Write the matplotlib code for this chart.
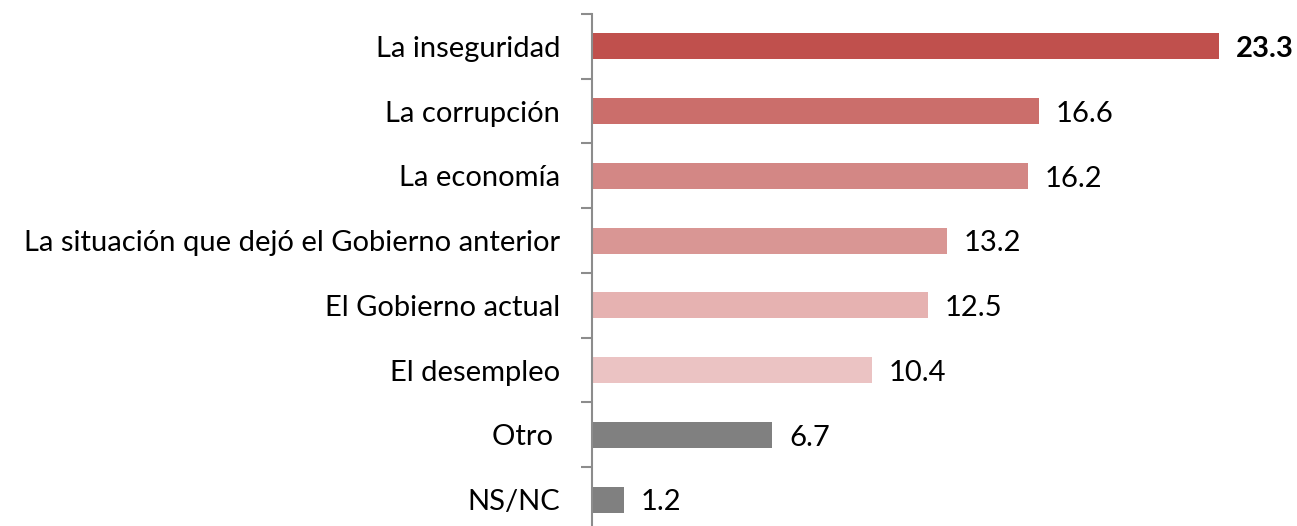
import matplotlib
matplotlib.use('Agg')
import matplotlib.pyplot as plt

categories = ['La inseguridad', 'La corrupción', 'La economía',
              'La situación que dejó el Gobierno anterior', 'El Gobierno actual',
              'El desempleo', 'Otro ', 'NS/NC']
values = [23.3, 16.6, 16.2, 13.2, 12.5, 10.4, 6.7, 1.2]
colors = ['#C0504D', '#CB6E6B', '#D38785', '#D99694', '#E6B2B1', '#EBC3C3',
          '#808080', '#808080']

plt.rcParams['font.family'] = ['Lato', 'DejaVu Sans']

fig = plt.figure(figsize=(12.97, 5.26), dpi=100)
ax = fig.add_axes([0.4564, -0.0114, 0.5396, 0.9848])

pos = list(range(len(categories)))
ax.barh(pos, values, height=0.4, color=colors)
ax.set_ylim(len(categories) - 0.5, -0.5)
ax.set_xlim(0, 26)

for i, v in enumerate(values):
    ax.annotate(f'{v:.1f}', (v, i), xytext=(12, -2), textcoords='offset points',
                va='center', ha='left', fontsize=21,
                fontweight='bold' if i == 0 else 'normal')

ax.set_yticks([p + 0.5 for p in [-1] + pos], minor=False)
ax.set_yticklabels([])
ax.set_yticks(pos, minor=True)
ax.set_yticklabels(categories, minor=True, fontsize=21)
ax.tick_params(axis='y', which='minor', length=0, pad=23)
ax.tick_params(axis='y', which='major', length=8, width=1.5, color='#8C8C8C')
ax.set_xticks([])
for s in ['top', 'right', 'bottom']:
    ax.spines[s].set_visible(False)
ax.spines['left'].set_color('#8C8C8C')
ax.spines['left'].set_linewidth(1.5)

plt.savefig('out.png', dpi=100)
